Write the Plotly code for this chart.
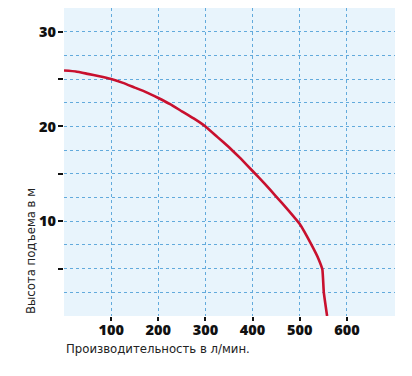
import plotly.graph_objects as go

flow = [0, 25, 50, 75, 100, 125, 150, 175, 200, 225, 250, 275, 300, 325, 350, 375,
        400, 425, 450, 475, 500, 525, 540, 548, 551, 558]
head = [25.9, 25.8, 25.55, 25.3, 25.0, 24.6, 24.1, 23.6, 23.0, 22.35, 21.6, 20.85, 20.0,
        18.9, 17.8, 16.6, 15.3, 14.0, 12.6, 11.2, 9.7, 7.5, 6.0, 4.9, 2.5, 0.0]

x_ticks = [100, 200, 300, 400, 500, 600]
y_ticks = [5, 10, 15, 20, 25, 30]
y_labels = ["", "10", "", "20", "", "30"]

fig = go.Figure()
fig.add_trace(go.Scatter(x=flow, y=head, mode="lines",
                         line=dict(color="#c8102e", width=2.6, shape="spline", smoothing=0.3),
                         hoverinfo="skip"))

tickfont = dict(family="Open Sans", size=14.5, color="#111111", weight=800)
gridc = "#62aadc"
titlefont = dict(family="DejaVu Sans Condensed, Open Sans", size=13, color="#222222")

# the page body has an 8px margin, so the figure is offset by 8px
fig.update_layout(
    width=404, height=368,
    margin=dict(l=56, r=17, t=0, b=60),
    paper_bgcolor="white", plot_bgcolor="#e8f4fc",
    showlegend=False,
    xaxis=dict(range=[0, 702], tickvals=x_ticks, ticktext=[str(v) for v in x_ticks],
               showgrid=True, gridcolor=gridc, griddash="dot", gridwidth=1,
               ticks="outside", ticklen=4, tickcolor="#111111", tickwidth=1.5,
               ticklabelstandoff=-3,
               tickfont=tickfont, zeroline=False, showline=False, fixedrange=True,
               automargin=False),
    yaxis=dict(range=[0, 32.5], tickvals=y_ticks, ticktext=y_labels,
               showgrid=True, gridcolor=gridc, griddash="dot", gridwidth=1,
               ticks="outside", ticklen=5, tickcolor="#111111", tickwidth=1.5,
               ticklabelstandoff=-1,
               tickfont=tickfont, zeroline=False, showline=False, fixedrange=True,
               automargin=False,
               minor=dict(tickvals=[2.5, 7.5, 12.5, 17.5, 22.5, 27.5], showgrid=True,
                          gridcolor=gridc, griddash="dot", gridwidth=1, ticks="")),
    annotations=[
        dict(text="Производительность в л/мин.", xref="paper", yref="paper",
             x=0, y=0, xanchor="left", yanchor="middle", yshift=-32, showarrow=False,
             font=titlefont),
        dict(text="Высота подъема в м", xref="paper", yref="paper", textangle=-90,
             x=0, y=0, xanchor="center", yanchor="bottom", xshift=-34, showarrow=False,
             font=titlefont),
    ],
)

fig.write_html("out.html")
